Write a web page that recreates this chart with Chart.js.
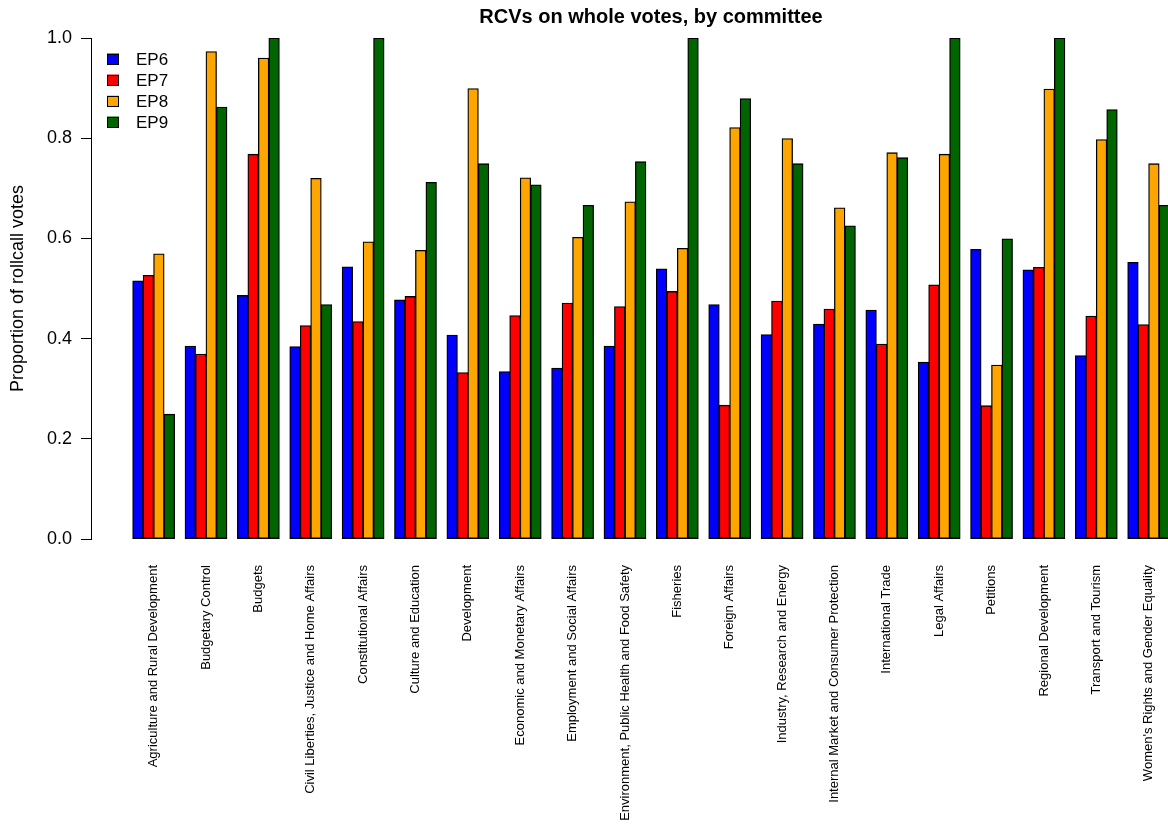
<!DOCTYPE html>
<html>
<head>
<meta charset="utf-8">
<title>RCVs on whole votes, by committee</title>
<script src="https://cdn.jsdelivr.net/npm/chart.js@4.4.1/dist/chart.umd.min.js"></script>
<style>
  html, body { margin: 0; padding: 0; background: #fff; overflow: hidden; }
  canvas { display: block; }
</style>
</head>
<body>
<canvas id="chart" width="1302" height="825"></canvas>
<script>
// Committees (x-axis categories)
const committees = [
  "Agriculture and Rural Development",
  "Budgetary Control",
  "Budgets",
  "Civil Liberties, Justice and Home Affairs",
  "Constitutional Affairs",
  "Culture and Education",
  "Development",
  "Economic and Monetary Affairs",
  "Employment and Social Affairs",
  "Environment, Public Health and Food Safety",
  "Fisheries",
  "Foreign Affairs",
  "Industry, Research and Energy",
  "Internal Market and Consumer Protection",
  "International Trade",
  "Legal Affairs",
  "Petitions",
  "Regional Development",
  "Transport and Tourism",
  "Women's Rights and Gender Equality"
];

// Share of roll-call votes per committee and legislature
const ep6 = [0.515, 0.385, 0.486, 0.384, 0.543, 0.477, 0.407, 0.334, 0.341, 0.385,
             0.539, 0.468, 0.408, 0.429, 0.457, 0.353, 0.578, 0.537, 0.366, 0.552];
const ep7 = [0.526, 0.369, 0.768, 0.426, 0.434, 0.484, 0.332, 0.446, 0.471, 0.464,
             0.494, 0.267, 0.475, 0.459, 0.389, 0.507, 0.266, 0.542, 0.445, 0.428];
const ep8 = [0.569, 0.973, 0.960, 0.720, 0.593, 0.576, 0.899, 0.721, 0.602, 0.673,
             0.580, 0.821, 0.799, 0.661, 0.771, 0.768, 0.347, 0.898, 0.797, 0.749];
const ep9 = [0.249, 0.862, 1.000, 0.468, 1.000, 0.712, 0.749, 0.707, 0.666, 0.753,
             1.000, 0.879, 0.749, 0.625, 0.761, 1.000, 0.599, 1.000, 0.857, 0.666];

const seriesNames = ["EP6", "EP7", "EP8", "EP9"];
const seriesColors = ["#0000FF", "#FF0000", "#FFA500", "#006400"];
const yTicks = [0, 0.2, 0.4, 0.6, 0.8, 1.0];

const FONT = "'Liberation Sans', Arial, Helvetica, sans-serif";
Chart.defaults.font.family = FONT;
Chart.defaults.color = "#000";

function toPoints(values) {
  return values.map((v, i) => ({ x: i, y: v }));
}

const datasets = [ep6, ep7, ep8, ep9].map((vals, k) => ({
  label: seriesNames[k],
  data: toPoints(vals),
  backgroundColor: seriesColors[k],
  borderColor: "#000",
  borderWidth: 1.3,
  borderSkipped: false,
  inflateAmount: 0.4,
  categoryPercentage: 0.8,
  barPercentage: 1.0
}));

// Legend drawn at the top-left corner of the plotting area
const cornerLegend = {
  id: "cornerLegend",
  afterDraw(chart) {
    const { ctx, chartArea } = chart;
    const left = chartArea.left + 16;
    ctx.save();
    ctx.font = "17px " + FONT;
    ctx.textBaseline = "middle";
    ctx.textAlign = "left";
    chart.data.datasets.forEach((ds, i) => {
      const cy = chartArea.top + 21 + 21 * i;
      ctx.fillStyle = ds.backgroundColor;
      ctx.fillRect(left, cy - 5.5, 12, 11);
      ctx.strokeStyle = "#000";
      ctx.lineWidth = 1;
      ctx.strokeRect(left + 0.5, Math.round(cy - 5.5) + 0.5, 11, 10);
      ctx.fillStyle = "#000";
      ctx.fillText(ds.label, left + 29, cy + 1);
    });
    ctx.restore();
  }
};

const groupPad = 1.196; // space between the axis line and the first/last group, in group units

new Chart(document.getElementById("chart"), {
  type: "bar",
  data: { datasets },
  options: {
    responsive: false,
    animation: false,
    layout: { padding: 0 },
    plugins: {
      legend: { display: false },
      tooltip: { enabled: false },
      title: {
        display: true,
        text: "RCVs on whole votes, by committee",
        color: "#000",
        font: { size: 20, weight: "bold", family: FONT },
        padding: { top: 5, bottom: 9 }
      }
    },
    scales: {
      x: {
        type: "linear",
        offset: false,
        min: -groupPad,
        max: committees.length - 1 + groupPad,
        grid: { display: false, drawTicks: false },
        border: { display: false },
        ticks: {
          stepSize: 1,
          includeBounds: false,
          autoSkip: false,
          minRotation: 90,
          maxRotation: 90,
          padding: 26,
          font: { size: 13 },
          color: "#000",
          callback: (v) => (Number.isInteger(v) && v >= 0 && v < committees.length) ? committees[v] : ""
        },
        afterFit: (s) => { s.height = 286; }
      },
      y: {
        type: "linear",
        position: "left",
        min: 0,
        max: 1,
        grid: {
          display: true,
          drawOnChartArea: false,
          drawTicks: true,
          tickLength: 10,
          color: "#000"
        },
        border: { display: true, color: "#000", width: 1 },
        ticks: {
          stepSize: 0.2,
          padding: 9,
          font: { size: 18 },
          color: "#000",
          callback: (v) => yTicks.some(t => Math.abs(t - v) < 1e-9) ? v.toFixed(1) : ""
        },
        title: {
          display: true,
          text: "Proportion of rollcall votes",
          font: { size: 18 },
          color: "#000",
          padding: { top: 7, bottom: 0 }
        },
        afterFit: (s) => { s.width = 91; }
      },
      spacer: {
        type: "linear",
        position: "right",
        display: true,
        grid: { display: false, drawTicks: false },
        border: { display: false },
        ticks: { display: false },
        afterFit: (s) => { s.width = 90.7; }
      }
    }
  },
  plugins: [cornerLegend]
});
</script>
</body>
</html>
